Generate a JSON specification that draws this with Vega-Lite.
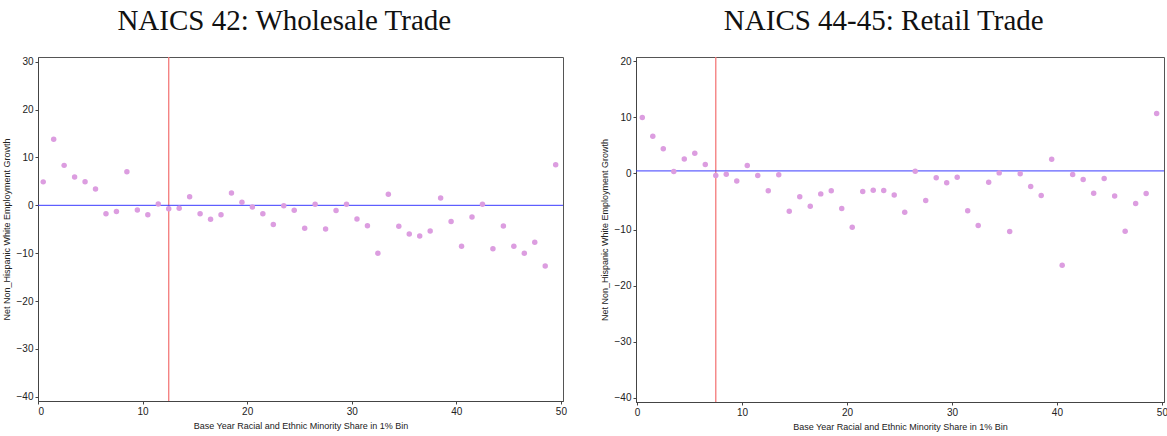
{
  "$schema": "https://vega.github.io/schema/vega-lite/v6.json",
  "background": "white",
  "padding": {"left": 1, "top": 6, "right": 0, "bottom": 0},
  "spacing": 32,
  "config": {
    "view": {"stroke": "#555", "strokeWidth": 1},
    "axis": {
      "labelFont": "Liberation Sans", "titleFont": "Liberation Sans",
      "labelFontSize": 10, "titleFontSize": 9, "titleFontWeight": "normal",
      "labelColor": "#222", "titleColor": "#222",
      "domainColor": "#444", "tickColor": "#444", "tickSize": 3,
      "labelPadding": 2, "titlePadding": 5, "grid": false
    },
    "title": {"font": "Liberation Serif", "fontSize": 29, "fontWeight": "normal", "color": "#111", "anchor": "middle", "frame": "bounds", "offset": 20}
  },
  "datasets": {
    "wholesale": [
      {"bin": 0.5, "growth": 4.9}, {"bin": 1.5, "growth": 13.8}, {"bin": 2.5, "growth": 8.35}, {"bin": 3.5, "growth": 5.9},
      {"bin": 4.5, "growth": 4.94}, {"bin": 5.5, "growth": 3.4}, {"bin": 6.5, "growth": -1.74}, {"bin": 7.5, "growth": -1.3},
      {"bin": 8.5, "growth": 7.0}, {"bin": 9.5, "growth": -0.97}, {"bin": 10.5, "growth": -1.95}, {"bin": 11.5, "growth": 0.28},
      {"bin": 12.5, "growth": -0.7}, {"bin": 13.5, "growth": -0.6}, {"bin": 14.5, "growth": 1.8}, {"bin": 15.5, "growth": -1.74},
      {"bin": 16.5, "growth": -2.9}, {"bin": 17.5, "growth": -1.95}, {"bin": 18.5, "growth": 2.57}, {"bin": 19.5, "growth": 0.63},
      {"bin": 20.5, "growth": -0.34}, {"bin": 21.5, "growth": -1.74}, {"bin": 22.5, "growth": -4.0}, {"bin": 23.5, "growth": -0.07},
      {"bin": 24.5, "growth": -1.04}, {"bin": 25.5, "growth": -4.8}, {"bin": 26.5, "growth": 0.21}, {"bin": 27.5, "growth": -4.94},
      {"bin": 28.5, "growth": -1.1}, {"bin": 29.5, "growth": 0.21}, {"bin": 30.5, "growth": -2.85}, {"bin": 31.5, "growth": -4.25},
      {"bin": 32.5, "growth": -10.0}, {"bin": 33.5, "growth": 2.3}, {"bin": 34.5, "growth": -4.38}, {"bin": 35.5, "growth": -5.98},
      {"bin": 36.5, "growth": -6.4}, {"bin": 37.5, "growth": -5.36}, {"bin": 38.5, "growth": 1.53}, {"bin": 39.5, "growth": -3.4},
      {"bin": 40.5, "growth": -8.56}, {"bin": 41.5, "growth": -2.43}, {"bin": 42.5, "growth": 0.21}, {"bin": 43.5, "growth": -9.1},
      {"bin": 44.5, "growth": -4.31}, {"bin": 45.5, "growth": -8.56}, {"bin": 46.5, "growth": -10.0}, {"bin": 47.5, "growth": -7.72},
      {"bin": 48.5, "growth": -12.67}, {"bin": 49.5, "growth": 8.49}
    ],
    "retail": [
      {"bin": 0.5, "growth": 10.0}, {"bin": 1.5, "growth": 6.66}, {"bin": 2.5, "growth": 4.4}, {"bin": 3.5, "growth": 0.36},
      {"bin": 4.5, "growth": 2.6}, {"bin": 5.5, "growth": 3.63}, {"bin": 6.5, "growth": 1.6}, {"bin": 7.5, "growth": -0.36},
      {"bin": 8.5, "growth": -0.12}, {"bin": 9.5, "growth": -1.32}, {"bin": 10.5, "growth": 1.43}, {"bin": 11.5, "growth": -0.36},
      {"bin": 12.5, "growth": -3.1}, {"bin": 13.5, "growth": -0.24}, {"bin": 14.5, "growth": -6.73}, {"bin": 15.5, "growth": -4.17},
      {"bin": 16.5, "growth": -5.84}, {"bin": 17.5, "growth": -3.64}, {"bin": 18.5, "growth": -3.1}, {"bin": 19.5, "growth": -6.25},
      {"bin": 20.5, "growth": -9.59}, {"bin": 21.5, "growth": -3.22}, {"bin": 22.5, "growth": -2.98}, {"bin": 23.5, "growth": -3.04},
      {"bin": 24.5, "growth": -3.82}, {"bin": 25.5, "growth": -6.91}, {"bin": 26.5, "growth": 0.41}, {"bin": 27.5, "growth": -4.82},
      {"bin": 28.5, "growth": -0.78}, {"bin": 29.5, "growth": -1.67}, {"bin": 30.5, "growth": -0.66}, {"bin": 31.5, "growth": -6.67},
      {"bin": 32.5, "growth": -9.29}, {"bin": 33.5, "growth": -1.55}, {"bin": 34.5, "growth": 0.11}, {"bin": 35.5, "growth": -10.36},
      {"bin": 36.5, "growth": -0.06}, {"bin": 37.5, "growth": -2.32}, {"bin": 38.5, "growth": -3.93}, {"bin": 39.5, "growth": 2.55},
      {"bin": 40.5, "growth": -16.4}, {"bin": 41.5, "growth": -0.18}, {"bin": 42.5, "growth": -1.07}, {"bin": 43.5, "growth": -3.52},
      {"bin": 44.5, "growth": -0.89}, {"bin": 45.5, "growth": -4.0}, {"bin": 46.5, "growth": -10.3}, {"bin": 47.5, "growth": -5.36},
      {"bin": 48.5, "growth": -3.57}, {"bin": 49.5, "growth": 10.7}
    ],
    "wholesale_hline": [{"growth": 0}],
    "wholesale_vline": [{"bin": 12.5}],
    "retail_hline": [{"growth": 0.46}],
    "retail_vline": [{"bin": 7.5}]
  },
  "hconcat": [
    {
      "title": "NAICS 42: Wholesale Trade",
      "width": 525,
      "height": 344,
      "layer": [
        {
          "data": {"name": "wholesale_vline"},
          "mark": {"type": "rule", "color": "#f47a7a", "strokeWidth": 1.3},
          "encoding": {
            "x": {"field": "bin", "type": "quantitative", "scale": {"domain": [0, 50.2], "nice": false, "zero": false},
              "axis": {"values": [0, 10, 20, 30, 40, 50], "title": "Base Year Racial and Ethnic Minority Share in 1% Bin"}}
          }
        },
        {
          "data": {"name": "wholesale_hline"},
          "mark": {"type": "rule", "color": "#3a3aff", "strokeWidth": 1},
          "encoding": {
            "y": {"field": "growth", "type": "quantitative", "scale": {"domain": [-40.9, 31], "nice": false, "zero": false},
              "axis": {"values": [-40, -30, -20, -10, 0, 10, 20, 30], "title": "Net Non_Hispanic White Employment Growth"}}
          }
        },
        {
          "data": {"name": "wholesale"},
          "mark": {"type": "circle", "size": 30, "color": "#dc9de0", "opacity": 1},
          "encoding": {
            "x": {"field": "bin", "type": "quantitative"},
            "y": {"field": "growth", "type": "quantitative"}
          }
        }
      ]
    },
    {
      "title": "NAICS 44-45: Retail Trade",
      "width": 528,
      "height": 345,
      "layer": [
        {
          "data": {"name": "retail_vline"},
          "mark": {"type": "rule", "color": "#f47a7a", "strokeWidth": 1.3},
          "encoding": {
            "x": {"field": "bin", "type": "quantitative", "scale": {"domain": [-0.1, 50.2], "nice": false, "zero": false},
              "axis": {"values": [0, 10, 20, 30, 40, 50], "title": "Base Year Racial and Ethnic Minority Share in 1% Bin"}}
          }
        },
        {
          "data": {"name": "retail_hline"},
          "mark": {"type": "rule", "color": "#3a3aff", "strokeWidth": 1},
          "encoding": {
            "y": {"field": "growth", "type": "quantitative", "scale": {"domain": [-40.8, 20.8], "nice": false, "zero": false},
              "axis": {"values": [-40, -30, -20, -10, 0, 10, 20], "title": "Net Non_Hispanic White Employment Growth"}}
          }
        },
        {
          "data": {"name": "retail"},
          "mark": {"type": "circle", "size": 30, "color": "#dc9de0", "opacity": 1},
          "encoding": {
            "x": {"field": "bin", "type": "quantitative"},
            "y": {"field": "growth", "type": "quantitative"}
          }
        }
      ]
    }
  ]
}
